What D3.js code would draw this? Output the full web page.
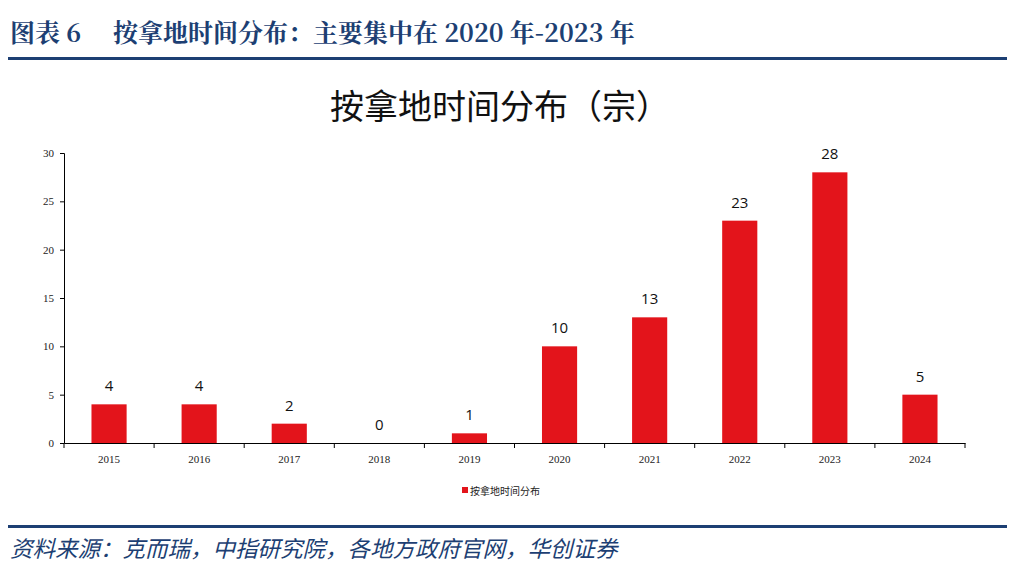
<!DOCTYPE html>
<html>
<head>
<meta charset="utf-8">
<script src="https://cdn.jsdelivr.net/npm/d3@7"></script>
<style>
body { margin: 0; background: #fff; }
svg { display: block; }
</style>
</head>
<body>
<svg id="chart"></svg>
<script>
var w = 1024
var h = 572

// data
var years = ["2015", "2016", "2017", "2018", "2019", "2020", "2021", "2022", "2023", "2024"]
var counts = [4, 4, 2, 0, 1, 10, 13, 23, 28, 5]
var yTicks = [0, 5, 10, 15, 20, 25, 30]
var seriesName = "按拿地时间分布"

var navy = "#1d3f73"
var barColor = "#e3141b"

var svg = d3.select("#chart")
	.attr("width", w)
	.attr("height", h)

// header
var head = svg.append("text")
	.attr("x", 10)
	.attr("y", 42)
	.attr("fill", navy)
	.style("font-family", "'Noto Serif CJK SC', 'Liberation Serif', 'Noto Sans CJK SC', serif")
	.style("font-weight", "bold")
	.style("font-size", "25px")
	.style("white-space", "pre")
head.append("tspan").text("图表 6")
head.append("tspan").attr("x", 113).text("按拿地时间分布：主要集中在 2020 年-2023 年")

svg.append("rect")
	.attr("x", 8).attr("y", 57)
	.attr("width", 999).attr("height", 3)
	.attr("fill", navy)

// chart title
svg.append("text")
	.attr("x", 500)
	.attr("y", 119)
	.attr("text-anchor", "middle")
	.attr("fill", "#111")
	.style("font-family", "'Noto Sans CJK SC', sans-serif")
	.style("font-size", "34px")
	.text("按拿地时间分布（宗）")

var x = d3.scaleBand()
	.domain(years)
	.range([64, 965])
	.paddingInner(0.61)
	.paddingOuter(0.305)

var y = d3.scaleLinear()
	.domain([0, 30])
	.range([443, 153])

// bars
svg.selectAll(".bar")
	.data(years)
	.join("rect")
	.attr("class", "bar")
	.attr("x", function(d){ return x(d) })
	.attr("y", function(d, i){ return y(counts[i]) })
	.attr("width", x.bandwidth())
	.attr("height", function(d, i){ return y(0) - y(counts[i]) })
	.attr("fill", barColor)

// value labels
svg.selectAll(".val")
	.data(years)
	.join("text")
	.attr("class", "val")
	.attr("x", function(d){ return x(d) + x.bandwidth()/2 })
	.attr("y", function(d, i){ return y(counts[i]) - 13 })
	.attr("text-anchor", "middle")
	.attr("fill", "#111")
	.style("font-family", "'Open Sans', 'Noto Sans', sans-serif")
	.style("font-size", "15px")
	.text(function(d, i){ return counts[i] })

// y axis
var yAxis = svg.append("g")
	.attr("transform", "translate(64,0)")
	.call(d3.axisLeft(y).tickValues(yTicks).tickSize(4).tickPadding(6))
yAxis.selectAll("text")
	.style("font-family", "'Liberation Serif', serif")
	.style("font-size", "11px")
	.attr("fill", "#222")

// x axis, ticks between categories
var xAxis = svg.append("g")
	.attr("transform", "translate(0,443)")
	.call(d3.axisBottom(x).tickSize(0).tickPadding(12))
xAxis.selectAll("text")
	.style("font-family", "'Liberation Serif', serif")
	.style("font-size", "11px")
	.attr("fill", "#222")

var step = x.step()
svg.append("g")
	.selectAll("line")
	.data(d3.range(years.length + 1))
	.join("line")
	.attr("x1", function(i){ return 64 + i * step })
	.attr("x2", function(i){ return 64 + i * step })
	.attr("y1", 443)
	.attr("y2", 448)
	.attr("stroke", "#000")

svg.selectAll(".domain").attr("stroke", "#000")

// legend
var leg = svg.append("g").attr("transform", "translate(462,491)")
leg.append("rect")
	.attr("x", 0).attr("y", -4)
	.attr("width", 6).attr("height", 6)
	.attr("fill", barColor)
leg.append("text")
	.attr("x", 8).attr("y", 1)
	.attr("dominant-baseline", "middle")
	.style("font-family", "'Noto Sans CJK SC', sans-serif")
	.style("font-size", "10px")
	.attr("fill", "#222")
	.text(seriesName)

// footer
svg.append("rect")
	.attr("x", 8).attr("y", 525)
	.attr("width", 999).attr("height", 3)
	.attr("fill", navy)

svg.append("text")
	.attr("x", 10)
	.attr("y", 557)
	.attr("fill", navy)
	.style("font-family", "'Noto Sans CJK SC', sans-serif")
	.style("font-style", "italic")
	.style("font-size", "22.5px")
	.text("资料来源：克而瑞，中指研究院，各地方政府官网，华创证券")
</script>
</body>
</html>
